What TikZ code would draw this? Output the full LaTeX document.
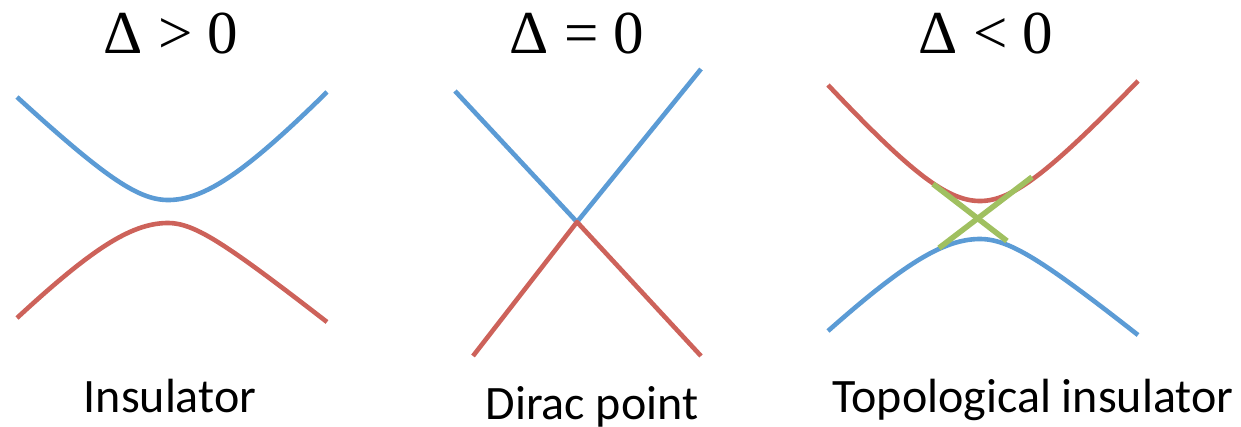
\documentclass[tikz,border=0pt]{standalone}
\usepackage{fontspec}
\setmainfont{Liberation Serif}
\newfontfamily\calibri{Carlito}
\definecolor{oblue}{RGB}{91,155,213}
\definecolor{ored}{RGB}{205,98,90}
\definecolor{ogreen}{RGB}{160,192,96}
\begin{document}
\begin{tikzpicture}[x=1pt,y=-1pt,
  band/.style={line width=4.6pt, line join=round},
  title/.style={font=\fontsize{61}{61}\selectfont, anchor=base, inner sep=0pt},
  caption/.style={font=\calibri\fontsize{48}{48}\selectfont, anchor=base, inner sep=0pt}]
\useasboundingbox (0,0) rectangle (1241,426);

% titles
\node[title] (t1) at (171,53) {Δ > 0};
\node[title] (t2) at (577,53) {Δ = 0};
\node[title] (t3) at (986,53) {Δ < 0};

% captions
\node[caption] (c1) at (170,412) {Insulator};
\node[caption] (c2) at (592,419) {Dirac point};
\node[caption] (c3) at (1033,412) {Topological insulator};

% panel 1: insulator
\draw[band, oblue] plot[domain=-151:0, samples=60]
   ({168+\x},{200-(10*sqrt(5.27*5.27+(0.097*\x)*(0.097*\x))-52.7)})
   -- plot[domain=0:159, samples=60]
   ({168+\x},{200-(10*sqrt(8.76*8.76+(0.11*\x)*(0.11*\x))-87.6)});
\draw[band, ored] plot[domain=-151:0, samples=60]
   ({168+\x},{223+(10*sqrt(8.48*8.48+(0.105*\x)*(0.105*\x))-84.8)})
   -- plot[domain=0:159, samples=60]
   ({168+\x},{223+(10*sqrt(3.22*3.22+(0.08*\x)*(0.08*\x))-32.2)});

% panel 2: Dirac point
\coordinate (dp) at (577,222);
\coordinate (bl) at (455,91);
\coordinate (br) at (701,69);
\coordinate (rl) at (473,356);
\coordinate (rr) at (701,356);
\draw[band, oblue] (bl) -- (dp) -- (br);
\draw[band, ored] (rl) -- (dp) -- (rr);

% panel 3: topological insulator
\draw[band, ored] plot[domain=-152:0, samples=60]
   ({980+\x},{201-(10*sqrt(7.37*7.37+(0.115*\x)*(0.115*\x))-73.7)})
   -- plot[domain=0:158, samples=60]
   ({980+\x},{201-(10*sqrt(6.58*6.58+(0.11*\x)*(0.11*\x))-65.8)});
\draw[band, oblue] plot[domain=-152:0, samples=60]
   ({980+\x},{239+(10*sqrt(7.96*7.96+(0.1*\x)*(0.1*\x))-79.6)})
   -- plot[domain=0:158, samples=60]
   ({980+\x},{239+(10*sqrt(3.94*3.94+(0.082*\x)*(0.082*\x))-39.4)});
\coordinate (g1a) at (933,184);
\coordinate (g1b) at (1007,241);
\coordinate (g2a) at (939,248);
\coordinate (g2b) at (1032,177);
\draw[band, ogreen, line width=5.5pt] (g1a) -- (g1b);
\draw[band, ogreen, line width=5.5pt] (g2a) -- (g2b);
\end{tikzpicture}
\end{document}
